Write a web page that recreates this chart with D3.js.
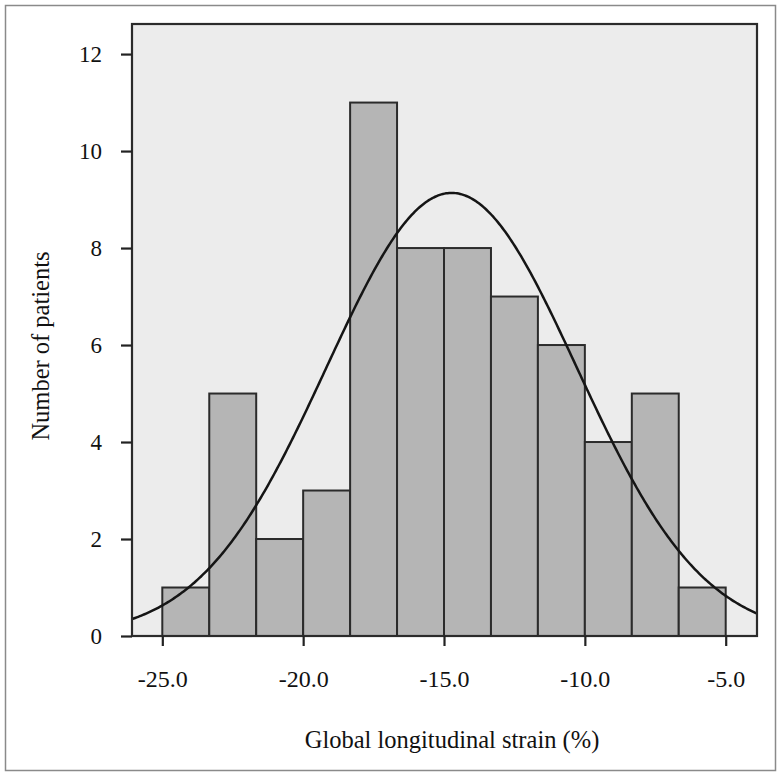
<!DOCTYPE html>
<html>
<head>
<meta charset="utf-8">
<script src="https://cdn.jsdelivr.net/npm/d3@7"></script>
<style>
  html, body { margin: 0; padding: 0; background: #fff; }
  svg { display: block; }
  text { font-family: "Liberation Serif", "DejaVu Serif", serif; fill: #111; }
</style>
</head>
<body>
<svg id="chart" width="784" height="776"></svg>
<script>
// ---- data ----
const binEdges = [-25.0, -23.333, -21.667, -20.0, -18.333, -16.667, -15.0, -13.333, -11.667, -10.0, -8.333, -6.667, -5.0];
const counts   = [1, 5, 2, 3, 11, 8, 8, 7, 6, 4, 5, 1];
const xTicks = [-25, -20, -15, -10, -5];
const xTickLabels = ["-25.0", "-20.0", "-15.0", "-10.0", "-5.0"];
const yTicks = [0, 2, 4, 6, 8, 10, 12];
const yTickLabels = ["0", "2", "4", "6", "8", "10", "12"];
const normalMean = -14.73;
const normalSD = 4.44;
const nPatients = 61;
const xTitle = "Global longitudinal strain (%)";
const yTitle = "Number of patients";

// ---- layout ----
const svg = d3.select("#chart");
const plot = { left: 132, right: 757, top: 24, bottom: 636 };

const x = d3.scaleLinear().domain([-26.076, -3.889]).range([plot.left, plot.right]);
const y = d3.scaleLinear().domain([0, 12.62]).range([plot.bottom, plot.top]);

// outer frame
svg.append("rect")
  .attr("x", 5.5).attr("y", 5.5).attr("width", 770).attr("height", 765)
  .attr("fill", "none").attr("stroke", "#8a8a8a").attr("stroke-width", 1.5);

// plot background
svg.append("rect")
  .attr("x", plot.left).attr("y", plot.top)
  .attr("width", plot.right - plot.left).attr("height", plot.bottom - plot.top)
  .attr("fill", "#ececec");

// bars
const bins = counts.map((c, i) => ({ x0: binEdges[i], x1: binEdges[i + 1], c }));
svg.append("g").selectAll("rect").data(bins).join("rect")
  .attr("x", d => x(d.x0))
  .attr("y", d => y(d.c))
  .attr("width", d => x(d.x1) - x(d.x0))
  .attr("height", d => y(0) - y(d.c))
  .attr("fill", "#b5b5b5")
  .attr("stroke", "#2b2b2b")
  .attr("stroke-width", 2);

// normal curve
const binWidth = binEdges[1] - binEdges[0];
const dens = v => nPatients * binWidth / (normalSD * Math.sqrt(2 * Math.PI)) *
  Math.exp(-0.5 * Math.pow((v - normalMean) / normalSD, 2));
const xs = d3.range(0, 401).map(i => x.domain()[0] + (x.domain()[1] - x.domain()[0]) * i / 400);
svg.append("path")
  .datum(xs)
  .attr("d", d3.line().x(v => x(v)).y(v => y(dens(v))))
  .attr("fill", "none")
  .attr("stroke", "#151515")
  .attr("stroke-width", 2.5);

// plot frame
svg.append("rect")
  .attr("x", plot.left).attr("y", plot.top)
  .attr("width", plot.right - plot.left).attr("height", plot.bottom - plot.top)
  .attr("fill", "none").attr("stroke", "#2b2b2b").attr("stroke-width", 2.2);

// y axis
const yAxis = d3.axisLeft(y).tickValues(yTicks)
  .tickFormat((d, i) => yTickLabels[i]).tickSize(11).tickPadding(19);
const gy = svg.append("g").attr("transform", `translate(${plot.left},0)`).call(yAxis);
gy.select(".domain").remove();
gy.selectAll(".tick line").attr("stroke", "#222").attr("stroke-width", 2.2);
gy.selectAll(".tick text").attr("font-size", 23).attr("font-family", "Liberation Serif").attr("fill", "#111");

// x axis
const xAxis = d3.axisBottom(x).tickValues(xTicks)
  .tickFormat((d, i) => xTickLabels[i]).tickSize(10).tickPadding(24);
const gx = svg.append("g").attr("transform", `translate(0,${plot.bottom})`).call(xAxis);
gx.select(".domain").remove();
gx.selectAll(".tick line").attr("stroke", "#222").attr("stroke-width", 2.2);
gx.selectAll(".tick text").attr("font-size", 24).attr("font-family", "Liberation Serif").attr("fill", "#111");

// titles
svg.append("text")
  .attr("x", 452).attr("y", 748)
  .attr("text-anchor", "middle")
  .attr("font-size", 24.5)
  .text(xTitle);

svg.append("text")
  .attr("transform", "translate(49,346) rotate(-90)")
  .attr("text-anchor", "middle")
  .attr("font-size", 24.5)
  .text(yTitle);
</script>
</body>
</html>
